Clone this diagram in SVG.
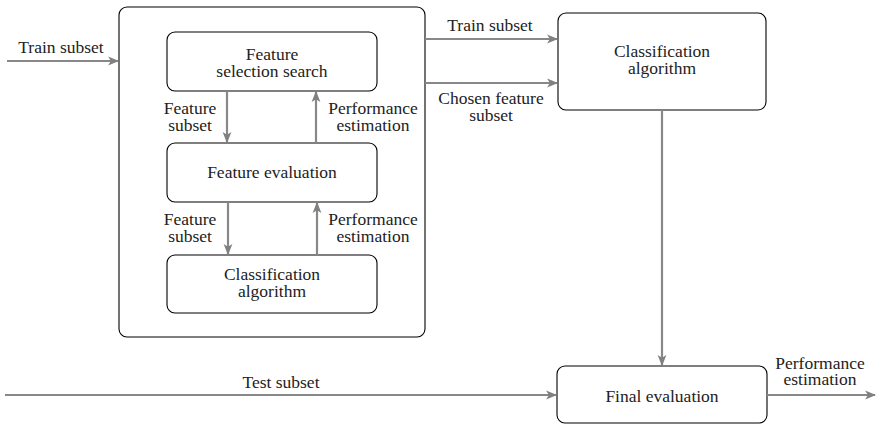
<svg xmlns="http://www.w3.org/2000/svg" width="876" height="424" viewBox="0 0 876 424">
<defs>
<marker id="ah" viewBox="0 0 10 10" refX="9" refY="5" markerWidth="5" markerHeight="5" orient="auto" markerUnits="strokeWidth">
<path d="M0,1 L10,5 L0,9 L2.5,5 Z" fill="#808080"/>
</marker>
</defs>
<rect width="876" height="424" fill="#fff"/>
<g id="outer">
<rect x="119" y="7" width="306" height="330" rx="8" fill="#fff" stroke="#000" stroke-width="1.1"/>
</g>
<g id="fss">
<rect x="167" y="32" width="210" height="59" rx="8" fill="#fff" stroke="#000" stroke-width="1.1"/>
<text font-family="Liberation Serif" font-size="17.5" fill="#222" text-anchor="middle"><tspan x="272" y="60">Feature</tspan><tspan x="272" y="77">selection search</tspan></text>
</g>
<g id="fe">
<rect x="167" y="143" width="210" height="59" rx="8" fill="#fff" stroke="#000" stroke-width="1.1"/>
<text font-family="Liberation Serif" font-size="17.5" fill="#222" text-anchor="middle" x="272" y="178">Feature evaluation</text>
</g>
<g id="ca1">
<rect x="167" y="255" width="210" height="58" rx="8" fill="#fff" stroke="#000" stroke-width="1.1"/>
<text font-family="Liberation Serif" font-size="17.5" fill="#222" text-anchor="middle"><tspan x="272" y="280">Classification</tspan><tspan x="272" y="297">algorithm</tspan></text>
</g>
<g id="ca2">
<rect x="558" y="13" width="208" height="97" rx="8" fill="#fff" stroke="#000" stroke-width="1.1"/>
<text font-family="Liberation Serif" font-size="17.5" fill="#222" text-anchor="middle"><tspan x="662" y="57">Classification</tspan><tspan x="662" y="74">algorithm</tspan></text>
</g>
<g id="final">
<rect x="557" y="366" width="210" height="57" rx="8" fill="#fff" stroke="#000" stroke-width="1.1"/>
<text font-family="Liberation Serif" font-size="17.5" fill="#222" text-anchor="middle" x="662" y="402">Final evaluation</text>
</g>
<g id="connectors" stroke="#888" stroke-width="2.2" fill="none" marker-end="url(#ah)">
<line x1="7" y1="61" x2="118" y2="61"/>
<line x1="227" y1="91" x2="227" y2="142"/>
<line x1="316" y1="143" x2="316" y2="92"/>
<line x1="228" y1="202" x2="228" y2="254"/>
<line x1="317" y1="255" x2="317" y2="203"/>
<line x1="425" y1="39" x2="557" y2="39"/>
<line x1="425" y1="83" x2="557" y2="83"/>
<line x1="662" y1="110" x2="662" y2="365"/>
<line x1="5" y1="395" x2="556" y2="395"/>
<line x1="767" y1="395" x2="875" y2="395"/>
</g>
<g id="labels">
<text font-family="Liberation Serif" font-size="17.5" fill="#222" text-anchor="middle" x="61" y="53">Train subset</text>
<text font-family="Liberation Serif" font-size="17.5" fill="#222" text-anchor="middle"><tspan x="190" y="114">Feature</tspan><tspan x="190" y="131">subset</tspan></text>
<text font-family="Liberation Serif" font-size="17.5" fill="#222" text-anchor="middle"><tspan x="373" y="114">Performance</tspan><tspan x="373" y="131">estimation</tspan></text>
<text font-family="Liberation Serif" font-size="17.5" fill="#222" text-anchor="middle"><tspan x="190" y="225">Feature</tspan><tspan x="190" y="242">subset</tspan></text>
<text font-family="Liberation Serif" font-size="17.5" fill="#222" text-anchor="middle"><tspan x="373" y="225">Performance</tspan><tspan x="373" y="242">estimation</tspan></text>
<text font-family="Liberation Serif" font-size="17.5" fill="#222" text-anchor="middle" x="490" y="31">Train subset</text>
<text font-family="Liberation Serif" font-size="17.5" fill="#222" text-anchor="middle"><tspan x="491" y="104">Chosen feature</tspan><tspan x="491" y="121">subset</tspan></text>
<text font-family="Liberation Serif" font-size="17.5" fill="#222" text-anchor="middle" x="281" y="388">Test subset</text>
<text font-family="Liberation Serif" font-size="17.5" fill="#222" text-anchor="middle"><tspan x="820" y="369">Performance</tspan><tspan x="820" y="385">estimation</tspan></text>
</g>
</svg>
